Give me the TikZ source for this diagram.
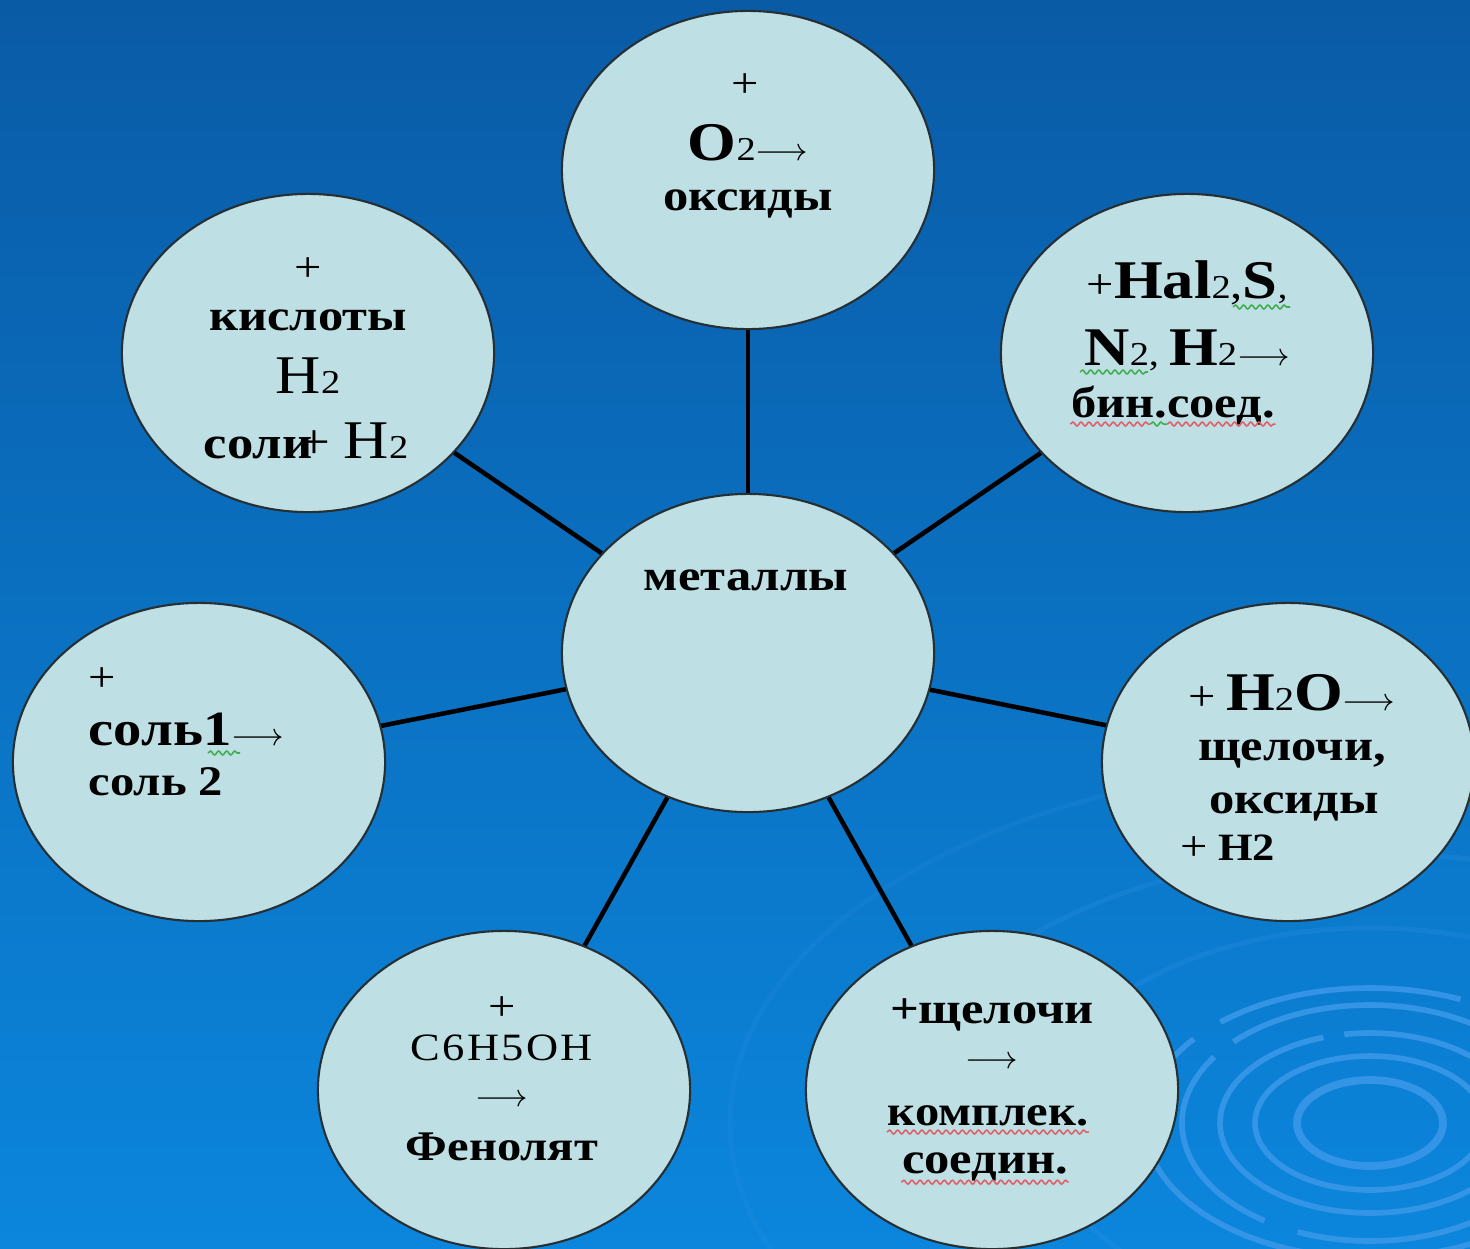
\documentclass[tikz,border=0pt]{standalone}
\usepackage{fontspec}
\setmainfont{Liberation Serif}[FakeStretch=1.15]
\usepackage{tikz}
\usetikzlibrary{shapes.geometric,decorations.pathmorphing}
\definecolor{bgtop}{HTML}{0A5BA6}
\definecolor{bgbot}{HTML}{0B86DC}
\definecolor{bubblefill}{HTML}{BEDFE4}
\definecolor{rim}{HTML}{263034}
\definecolor{ripple}{HTML}{3C98EA}
\definecolor{spellred}{HTML}{E0606A}
\definecolor{spellgreen}{HTML}{3FAE50}
\newcommand\wrd{\fontsize{12.5}{15}\selectfont\bfseries}
\newcommand\reg{\fontsize{12}{14}\selectfont\mdseries}
\newcommand\frm{\fontsize{15.5}{18}\selectfont\bfseries}
\newcommand\frmr{\fontsize{15.5}{18}\selectfont\mdseries}
\newcommand\chsub[1]{{\fontsize{9.5}{11}\selectfont\mdseries #1}}
\newcommand\arr{{\fontsize{9.5}{11}\selectfont$\longrightarrow$}}
\tikzset{
  bubble/.style={ellipse, draw=rim, fill=bubblefill, line width=0.6pt,
    minimum width=3.72cm, minimum height=3.18cm, inner sep=0pt},
  link/.style={draw=black, line width=1.3pt},
  txt/.style={anchor=base, inner sep=0pt},
  txtl/.style={anchor=base west, inner sep=0pt},
  ring/.style={draw=ripple, line width=1.6pt, opacity=0.85},
  farring/.style={draw=ripple, line width=1.4pt, opacity=0.2},
  spell/.style={decorate, decoration={snake, segment length=2.3pt, amplitude=0.55pt}, line width=0.45pt},
}

\begin{document}
\begin{tikzpicture}[x=0.01cm, y=-0.01cm]
  \useasboundingbox (0,0) rectangle (1470,1248);
  \shade[top color=bgtop, bottom color=bgbot] (0,0) rectangle (1470,1248);

  % ripples, bottom right
  \draw[ring, line width=2.2pt] (1370,1123) ellipse [x radius=73, y radius=43];
  \draw[ring] (1370,1123) ellipse [x radius=115, y radius=67];
  \draw[ring, dash pattern=on 150pt off 6pt on 40pt off 8pt] (1370,1123) ellipse [x radius=150, y radius=90];
  \draw[ring, dash pattern=on 90pt off 10pt on 60pt off 7pt] (1370,1123) ellipse [x radius=188, y radius=118];
  \draw[ring, dash pattern=on 70pt off 12pt on 110pt off 9pt] (1370,1123) ellipse [x radius=225, y radius=135];
  \draw[farring] (1370,1123) ellipse [x radius=330, y radius=195];
  \draw[farring] (1370,1123) ellipse [x radius=470, y radius=270];
  \draw[farring, opacity=0.13] (1370,1123) ellipse [x radius=640, y radius=360];

  % bubbles
  \node[bubble] (metal)  at (748,653)  {};
  \node[bubble] (ox)     at (748,170)  {};
  \node[bubble] (acid)   at (308,353)  {};
  \node[bubble] (bin)    at (1187,353) {};
  \node[bubble] (salt)   at (199,762)  {};
  \node[bubble] (water)  at (1288,762) {};
  \node[bubble] (phenol) at (504,1090) {};
  \node[bubble] (alkali) at (992,1090) {};

  % spokes
  \draw[link] (metal) -- (ox);
  \draw[link] (metal) -- (acid);
  \draw[link] (metal) -- (bin);
  \draw[link] (metal) -- (salt);
  \draw[link] (metal) -- (water);
  \draw[link] (metal) -- (phenol);
  \draw[link] (metal) -- (alkali);

  % texts
  \node[txt] (metal1) at (746,590) {\wrd металлы};

  \node[txt] (ox1) at (745,97)  {\reg +};
  \node[txt] (ox2) at (748,160) {\frm O\chsub{2}\arr};
  \node[txt] (ox3) at (748,210) {\wrd оксиды};

  \node[txt] (acid1) at (308,281) {\reg +};
  \node[txt] (acid2) at (308,330) {\wrd кислоты};
  \node[txt] (acid3) at (308,393) {\frmr H\chsub{2}};
  \node[txt] (acid4) at (306,458) {\wrd\fontsize{13}{15}\selectfont соли\kern-0.3em{\fontsize{14}{15}\selectfont\mdseries+} {\frmr H\chsub{2}}};

  \node[txt] (bin1) at (1187,298) {\reg +{\frm Hal}\chsub{2},{\frm S}\chsub{,}};
  \node[txt] (bin2) at (1187,365) {{\frm N}\chsub{2}, {\frm H}\chsub{2}\arr};
  \node[txt] (bin3) at (1173,417) {\wrd бин.соед.};

  \node[txtl] (salt1) at (88,691) {\reg +};
  \node[txtl] (salt2) at (88,745) {{\fontsize{14}{16}\selectfont\bfseries соль1}\arr};
  \node[txtl] (salt3) at (88,795) {\wrd\fontsize{12}{14}\selectfont соль 2};

  \node[txt] (water1) at (1292,710) {{\reg +} {\frm H}\chsub{2}{\frm O}\arr};
  \node[txt] (water2) at (1292,760) {\wrd щелочи,};
  \node[txt] (water3) at (1294,813) {\wrd оксиды};
  \node[txtl] (water4) at (1180,860) {{\reg +} {\wrd\fontsize{11}{13}\selectfont H2}};

  \node[txt] (phenol1) at (502,1020) {\reg +};
  \node[txt] (phenol2) at (502,1060) {\fontsize{11}{13}\selectfont\addfontfeature{LetterSpace=6}C6H5OH};
  \node[txt] (phenol3) at (502,1106) {\arr};
  \node[txt] (phenol4) at (502,1160) {\wrd\fontsize{12}{14}\selectfont Фенолят};

  \node[txt] (alkali1) at (992,1023) {\wrd +щелочи};
  \node[txt] (alkali2) at (992,1068) {\arr};
  \node[txt] (alkali3) at (988,1125) {\wrd\fontsize{12}{14}\selectfont комплек.};
  \node[txt] (alkali4) at (985,1173) {\wrd соедин.};

  % spell-check underlines
  \draw[spell, draw=spellgreen] (1233,307) -- (1290,307);
  \draw[spell, draw=spellgreen] (1080,372) -- (1148,372);
  \draw[spell, draw=spellred] ([yshift=-2pt]bin3.base west) -- ++(80,0);
  \draw[spell, draw=spellgreen] ([yshift=-2pt,xshift=80*0.01cm]bin3.base west) -- ++(17,0);
  \draw[spell, draw=spellred] ([yshift=-2pt,xshift=97*0.01cm]bin3.base west) -- ([yshift=-2pt]bin3.base east);
  \draw[spell, draw=spellgreen] (208,753) -- (240,753);
  \draw[spell, draw=spellred] ([yshift=-2pt]alkali3.base west) -- ([yshift=-2pt]alkali3.base east);
  \draw[spell, draw=spellred] ([yshift=-2.6pt]alkali4.base west) -- ([yshift=-2.6pt]alkali4.base east);
\end{tikzpicture}
\end{document}
